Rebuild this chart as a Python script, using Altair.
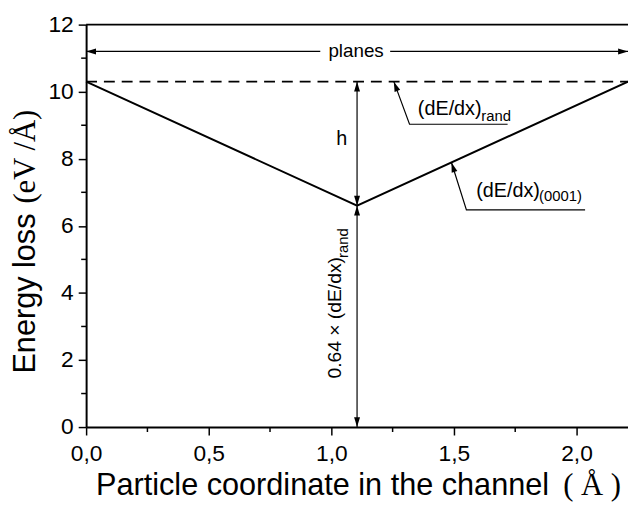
import altair as alt
import pandas as pd

# ---------------- data ----------------
channel_x = [0.0, 1.105, 2.21]          # particle coordinate (Å)
channel_loss = [10.3, 6.6, 10.3]        # (dE/dx)_(0001)  (eV/Å)
random_loss = 10.3                      # (dE/dx)_rand
planes_level = 11.2
x_domain = [0.0, 2.21]
y_domain = [0, 12]

x_major_ticks = [0.0, 0.5, 1.0, 1.5, 2.0]
x_minor_ticks = [0.25, 0.75, 1.25, 1.75]
y_major_ticks = [0, 2, 4, 6, 8, 10, 12]
y_minor_ticks = [1, 3, 5, 7, 9, 11]

planes_seg_x1 = [0.0, 1.24]
planes_seg_x2 = [0.955, 2.21]

dim_x = 1.105
dim_y1 = [10.3, 6.6]
dim_y2 = [6.6, 0.0]

leader_id = ["rand", "rand", "rand", "p0001", "p0001", "p0001"]
leader_order = [0, 1, 2, 0, 1, 2]
leader_x = [1.255, 1.319, 1.719, 1.49, 1.551, 2.035]
leader_y = [10.3, 9.03, 9.03, 7.889, 6.478, 6.478]

head_x = [0.0, 2.21, 1.105, 1.105, 1.105, 1.105, 1.255, 1.49]
head_y = [11.2, 11.2, 10.3, 6.6, 6.6, 0.0, 10.3, 7.889]
head_dir = [270, 90, 0, 180, 0, 180, 339, 342]

main_text = ["planes", "h", "(dE/dx)", "(dE/dx)"]
main_x = [1.101, 1.043, 1.353, 1.591]
main_y = [11.2, 8.595, 9.317, 6.85]
main_align = ["center", "center", "left", "left"]
main_base = ["middle", "middle", "alphabetic", "alphabetic"]

sub_text = ["rand", "(0001)"]
sub_x = [1.612, 1.847]
sub_y = [9.13, 6.752]

rot_text = ["0.64 \u00d7 (dE/dx)"]
rot_x = [1.040]
rot_y = [1.446]
rot_sub_text = ["rand"]
rot_sub_x = [1.067]
rot_sub_y = [5.04]

# ---------------- helpers ----------------
FONT = "Liberation Sans"
SERIF = "Liberation Serif"

xs = alt.Scale(domain=x_domain, nice=False, zero=False)
ys = alt.Scale(domain=y_domain, nice=False)

x_axis = alt.Axis(
    values=x_major_ticks, title=None, format=".1f",
    labelExpr="replace(datum.label, '.', ',')",
    tickSize=8, labelPadding=8, labelFlush=False, labelOverlap=False, grid=False,
)
y_axis = alt.Axis(
    values=y_major_ticks, title=None, format="d",
    tickSize=8, labelPadding=5, labelOverlap=False, grid=False,
)

def X(f="x"):
    return alt.X(f"{f}:Q", scale=xs, axis=x_axis)

def Y(f="y"):
    return alt.Y(f"{f}:Q", scale=ys, axis=y_axis)

# ---------------- layers ----------------
profile_df = pd.DataFrame({"x": channel_x, "y": channel_loss})
profile = alt.Chart(profile_df).mark_line(color="black", strokeWidth=2).encode(x=X(), y=Y())

# minor ticks (outside the plot area, 5 px long)
xminor = alt.Chart(pd.DataFrame({"x": x_minor_ticks})).mark_rule(color="black", strokeWidth=1.5).encode(
    x=X(), y=alt.value(407), y2=alt.value(412))
yminor = alt.Chart(pd.DataFrame({"y": y_minor_ticks})).mark_rule(color="black", strokeWidth=1.5).encode(
    y=Y(), x=alt.value(0), x2=alt.value(-5))

frame_df = pd.DataFrame({"x": [x_domain[0]], "x2": [x_domain[1]], "y": [y_domain[1]]})
top_frame = alt.Chart(frame_df).mark_rule(color="black", strokeWidth=2).encode(
    x=X(), x2="x2:Q", y=Y())

rand_df = pd.DataFrame({"x": [x_domain[0]], "x2": [x_domain[1]], "y": [random_loss]})
rand_line = alt.Chart(rand_df).mark_rule(color="black", strokeWidth=2, strokeDash=[11, 7]).encode(
    x=X(), x2="x2:Q", y=Y())

planes_df = pd.DataFrame({"x": planes_seg_x1, "x2": planes_seg_x2, "y": [planes_level] * 2})
planes = alt.Chart(planes_df).mark_rule(color="black", strokeWidth=1.2).encode(
    x=X(), x2="x2:Q", y=Y())

dim_df = pd.DataFrame({"x": [dim_x] * 2, "y": dim_y1, "y2": dim_y2})
dims = alt.Chart(dim_df).mark_rule(color="black", strokeWidth=1.2).encode(
    x=X(), y=Y(), y2="y2:Q")

leader_df = pd.DataFrame({"id": leader_id, "o": leader_order, "x": leader_x, "y": leader_y})
leaders = alt.Chart(leader_df).mark_line(color="black", strokeWidth=1.2).encode(
    x=X(), y=Y(), detail="id:N", order="o:Q")

head_df = pd.DataFrame({"x": head_x, "y": head_y, "a": head_dir})
heads = alt.Chart(head_df).mark_point(
    shape="M0,0 L-0.3,1 L0.3,1 Z", filled=True, size=400, color="black", opacity=1, strokeWidth=0
).encode(x=X(), y=Y(), angle=alt.Angle("a:Q", scale=None))

main_layers = []
for t, xx, yy, al, bl in zip(main_text, main_x, main_y, main_align, main_base):
    size = 19 if t == "planes" else 20
    main_layers.append(
        alt.Chart(pd.DataFrame({"t": [t], "x": [xx], "y": [yy]})).mark_text(
            font=FONT, fontSize=size, align=al, baseline=bl, color="black"
        ).encode(x=X(), y=Y(), text="t:N")
    )

sub_df = pd.DataFrame({"t": sub_text, "x": sub_x, "y": sub_y})
subs = alt.Chart(sub_df).mark_text(font=FONT, fontSize=15, align="left", baseline="alphabetic",
                                   color="black").encode(x=X(), y=Y(), text="t:N")

rot_df = pd.DataFrame({"t": rot_text, "x": rot_x, "y": rot_y})
rot = alt.Chart(rot_df).mark_text(font=FONT, fontSize=19.5, angle=270, align="left",
                                  baseline="alphabetic", color="black").encode(x=X(), y=Y(), text="t:N")
rot_sub_df = pd.DataFrame({"t": rot_sub_text, "x": rot_sub_x, "y": rot_sub_y})
rot_sub = alt.Chart(rot_sub_df).mark_text(font=FONT, fontSize=15, angle=270, align="left",
                                          baseline="alphabetic", color="black").encode(x=X(), y=Y(), text="t:N")

# axis titles (mixed sans / serif)
xt1 = alt.Chart(pd.DataFrame({"t": ["Particle coordinate in the channel"]})).mark_text(
    font=FONT, fontSize=31, align="left", baseline="alphabetic", color="black"
).encode(x=alt.value(10), y=alt.value(476), text="t:N")
xt2 = alt.Chart(pd.DataFrame({"t": ["( \u00c5 )"]})).mark_text(
    font=SERIF, fontSize=31, align="right", baseline="alphabetic", color="black"
).encode(x=alt.value(541), y=alt.value(476), text="t:N")
yt1 = alt.Chart(pd.DataFrame({"t": ["Energy loss"]})).mark_text(
    font=FONT, fontSize=31, angle=270, align="right", baseline="alphabetic", color="black"
).encode(x=alt.value(-52), y=alt.value(191), text="t:N")
yt2 = alt.Chart(pd.DataFrame({"t": ["(eV /\u00c5)"]})).mark_text(
    font=SERIF, fontSize=31, angle=270, align="left", baseline="alphabetic", color="black"
).encode(x=alt.value(-52), y=alt.value(181), text="t:N")

chart = alt.layer(
    profile, xminor, yminor, top_frame, rand_line, planes, dims, leaders, heads,
    *main_layers, subs, rot, rot_sub, xt1, xt2, yt1, yt2
).properties(
    width=548, height=407,
    autosize=alt.AutoSizeParams(type="none"),
    padding={"left": 79, "top": 14, "right": 0, "bottom": 76},
    background="white",
).configure_view(stroke=None).configure_axis(
    domainColor="black", domainWidth=2, tickColor="black", tickWidth=1.5,
    labelColor="black", labelFont=FONT, labelFontSize=23,
)

chart.save("out.html", embed_options={"renderer": "svg", "actions": False})
